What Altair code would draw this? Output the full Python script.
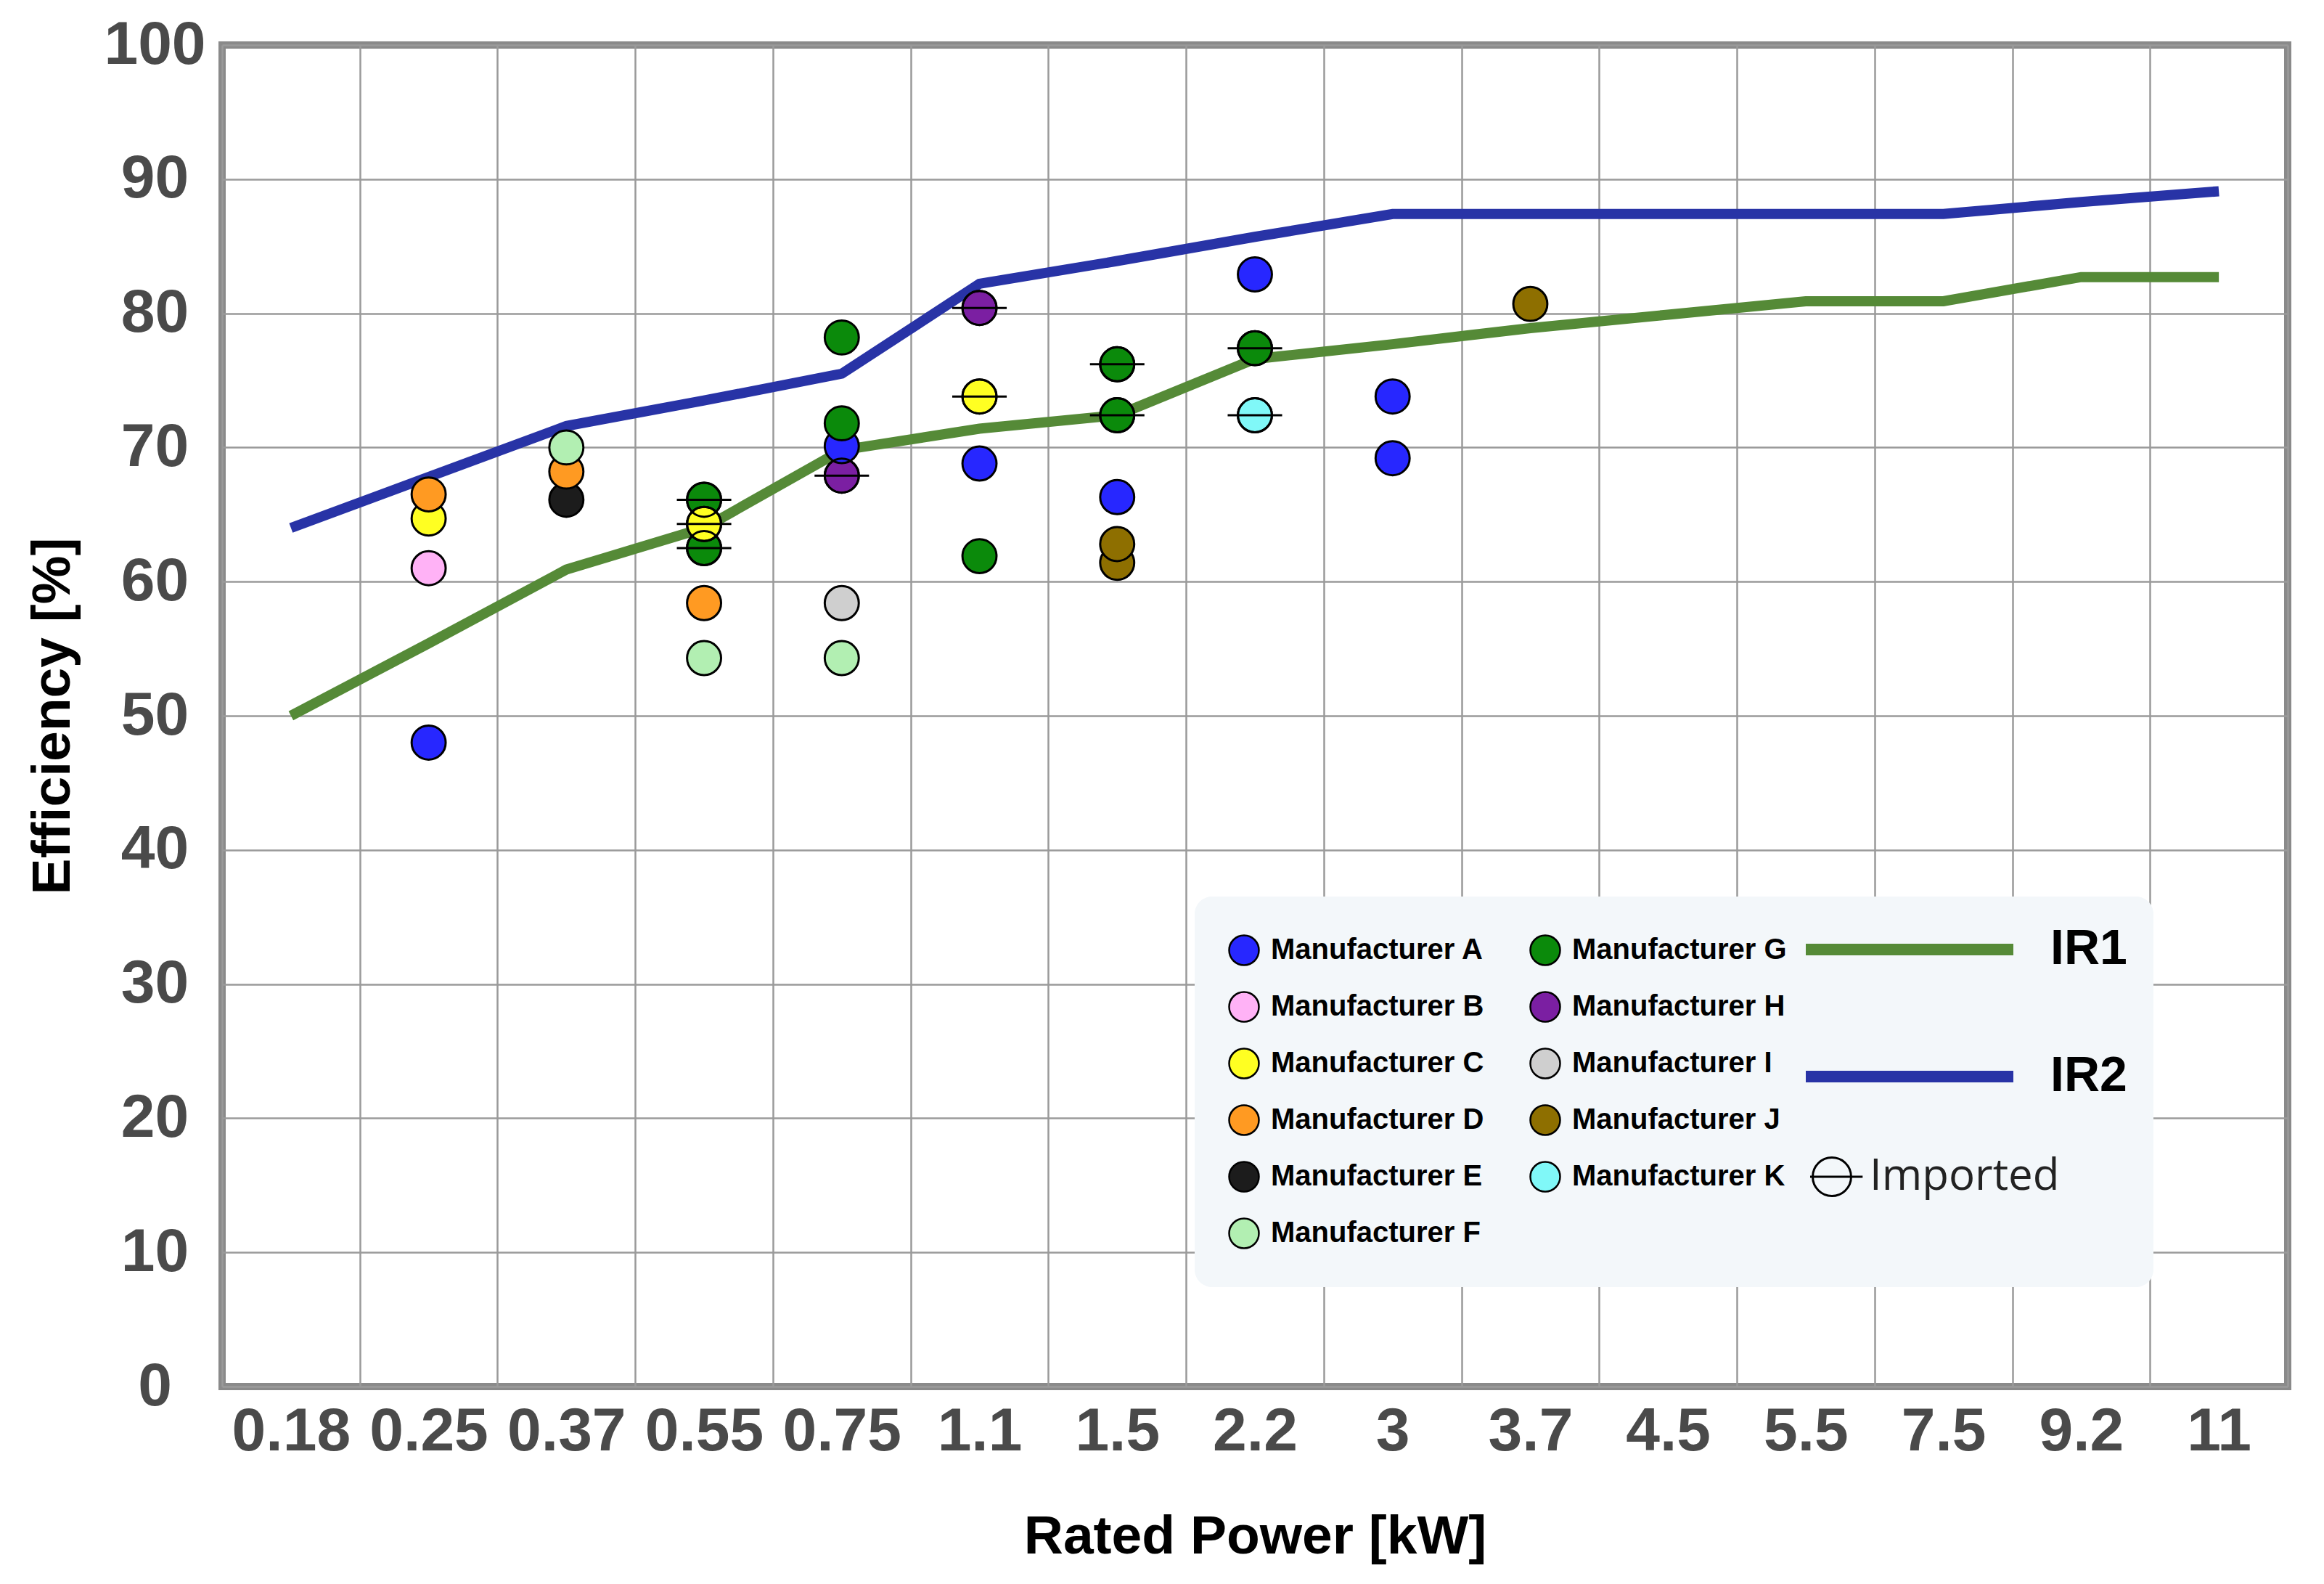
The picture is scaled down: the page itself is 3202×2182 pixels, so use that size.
import altair as alt
import pandas as pd

# ---- values ----------------------------------------------------------------
RATINGS = ["0.18", "0.25", "0.37", "0.55", "0.75", "1.1", "1.5", "2.2",
           "3", "3.7", "4.5", "5.5", "7.5", "9.2", "11"]

IR1 = [50.0, 55.4, 60.9, 64.0, 69.8, 71.4, 72.4, 76.6,
       77.7, 78.9, 79.9, 80.9, 80.9, 82.7, 82.7]
IR2 = [64.0, 67.8, 71.6, 73.5, 75.5, 82.2, 83.9, 85.7,
       87.4, 87.4, 87.4, 87.4, 87.4, 88.3, 89.1]

MAKERS = ["A", "B", "C", "D", "E", "F", "G", "H", "I", "J", "K"]
MAKER_COLORS = ["#2727ff", "#ffb2f6", "#ffff22", "#ff9a22", "#1c1c1c", "#b2efb2",
                "#0b8a0b", "#7b1fa2", "#cfcfcf", "#8e6f00", "#80f8f8"]

PT_RATING = ["0.25", "0.25", "0.25", "0.25",
             "0.37", "0.37", "0.37",
             "0.55", "0.55", "0.55", "0.55", "0.55",
             "0.75", "0.75", "0.75", "0.75", "0.75", "0.75",
             "1.1", "1.1", "1.1", "1.1",
             "1.5", "1.5", "1.5", "1.5", "1.5",
             "2.2", "2.2", "2.2",
             "3", "3",
             "3.7"]
PT_MAKER = ["A", "B", "C", "D",
            "E", "D", "F",
            "F", "D", "G", "G", "C",
            "F", "I", "H", "A", "G", "G",
            "G", "A", "C", "H",
            "J", "J", "A", "G", "G",
            "K", "G", "A",
            "A", "A",
            "J"]
PT_EFF = [48.0, 61.0, 64.7, 66.5,
          66.1, 68.2, 70.0,
          54.3, 58.4, 62.5, 66.1, 64.3,
          54.3, 58.4, 67.9, 70.1, 71.8, 78.2,
          61.9, 68.8, 73.8, 80.4,
          61.4, 62.8, 66.3, 72.4, 76.2,
          72.4, 77.4, 82.9,
          69.2, 73.8,
          80.7]
PT_IMPORTED = [False, False, False, False,
               False, False, False,
               False, False, True, True, True,
               False, False, True, False, False, False,
               False, False, True, True,
               False, False, False, True, True,
               True, True, False,
               False, False,
               False]

# ---- styling -----------------------------------------------------------------
SANS = "Liberation Sans, Arial, sans-serif"
FRAME = "#8a8a8a"
GRID = "#9a9a9a"
LEGEND_BG = "#f3f7fa"
IR1_GREEN = "#558a37"
IR2_BLUE = "#2833a6"
# open circle with a horizontal bar through it (unit box -1..1)
IMPORTED_PATH = "M1,0A1,1,0,1,1,-1,0A1,1,0,1,1,1,0ZM-1.6,0L1.6,0"

points_df = pd.DataFrame({
    "rating": PT_RATING,
    "maker": PT_MAKER,
    "eff": PT_EFF,
    "imported": PT_IMPORTED,
})

lines_df = pd.concat([
    pd.DataFrame({"rating": RATINGS, "eff": IR1, "series": "IR1", "idx": range(len(RATINGS))}),
    pd.DataFrame({"rating": RATINGS, "eff": IR2, "series": "IR2", "idx": range(len(RATINGS))}),
])

x_enc = alt.X(
    "rating:O", title="Rated Power [kW]",
    scale=alt.Scale(type="band", domain=RATINGS, paddingInner=0, paddingOuter=0),
    axis=alt.Axis(tickBand="extent", grid=True, ticks=False, tickSize=0, domain=False,
                  labelAngle=0, labelPadding=21, labelOverlap=False, labelLimit=400,
                  titlePadding=66),
)
y_enc = alt.Y(
    "eff:Q", title="Efficiency [%]",
    scale=alt.Scale(domain=[0, 100], nice=False),
    axis=alt.Axis(values=list(range(0, 101, 10)), grid=True, ticks=False, tickSize=0,
                  domain=False, labelAlign="center", labelPadding=93, labelFlush=False,
                  titlePadding=31),
)

lines = alt.Chart(lines_df).mark_line(strokeWidth=14).encode(
    x=x_enc,
    y=y_enc,
    order=alt.Order("idx:Q"),
    stroke=alt.Stroke(
        "series:N",
        scale=alt.Scale(domain=["IR1", "IR2"], range=[IR1_GREEN, IR2_BLUE]),
        legend=alt.Legend(
            title=None, orient="none", legendX=2174, legendY=1201,
            direction="vertical", symbolType="stroke", symbolSize=81796,
            symbolStrokeWidth=16, clipHeight=90, rowPadding=85, padding=0,
            labelFont=SANS, labelFontSize=68, labelFontWeight="bold",
            labelColor="black", labelOffset=43, labelLimit=1000, zindex=2,
        ),
    ),
)

points = alt.Chart(points_df).mark_circle(
    size=2200, stroke="black", strokeWidth=3, opacity=1
).encode(
    x=x_enc,
    y=y_enc,
    fill=alt.Fill(
        "maker:N",
        scale=alt.Scale(domain=MAKERS, range=MAKER_COLORS),
        legend=alt.Legend(
            title=".", titleOrient="right", titlePadding=458, titleOpacity=0,
            titleFontSize=2, orient="none", legendX=1340, legendY=1173,
            direction="vertical", columns=2, columnPadding=62, rowPadding=22,
            clipHeight=56, padding=46, fillColor=LEGEND_BG, cornerRadius=24,
            symbolType="circle", symbolSize=1681, symbolStrokeColor="black",
            symbolStrokeWidth=2.5, symbolOpacity=1,
            labelFont=SANS, labelFontSize=40, labelFontWeight="bold",
            labelColor="black", labelOffset=15, labelLimit=1000,
            labelExpr="'Manufacturer ' + datum.label", zindex=1,
        ),
    ),
)

imported = alt.Chart(points_df).transform_filter(
    alt.datum.imported
).transform_calculate(
    kind="'Imported'"
).mark_point(
    filled=False, size=2200, stroke="black", strokeWidth=3, opacity=1
).encode(
    x=x_enc,
    y=y_enc,
    shape=alt.Shape(
        "kind:N",
        scale=alt.Scale(domain=["Imported"], range=[IMPORTED_PATH]),
        legend=alt.Legend(
            title=None, orient="none", legendX=2188, legendY=1524,
            symbolSize=2800, symbolStrokeColor="black", symbolFillColor="transparent",
            symbolStrokeWidth=3, clipHeight=70, padding=0,
            labelFont="Open Sans", labelFontSize=60, labelFontWeight="normal",
            labelColor="#222222", labelOffset=22, labelLimit=1000, zindex=2,
        ),
    ),
)

chart = alt.layer(lines, points, imported).properties(
    width=2846,
    height=1848,
    autosize=alt.AutoSizeParams(type="none"),
    padding={"left": 298, "top": 54, "right": 30, "bottom": 255},
).configure_view(
    stroke=FRAME, strokeWidth=10
).configure_axis(
    labelFont=SANS, labelFontSize=84, labelFontWeight="bold", labelColor="#4a4a4a",
    titleFont=SANS, titleFontSize=75, titleFontWeight="bold", titleColor="black",
    gridColor=GRID, gridWidth=2.5, gridOpacity=1,
)

chart.save("out.html", embed_options={"renderer": "svg", "actions": False})
